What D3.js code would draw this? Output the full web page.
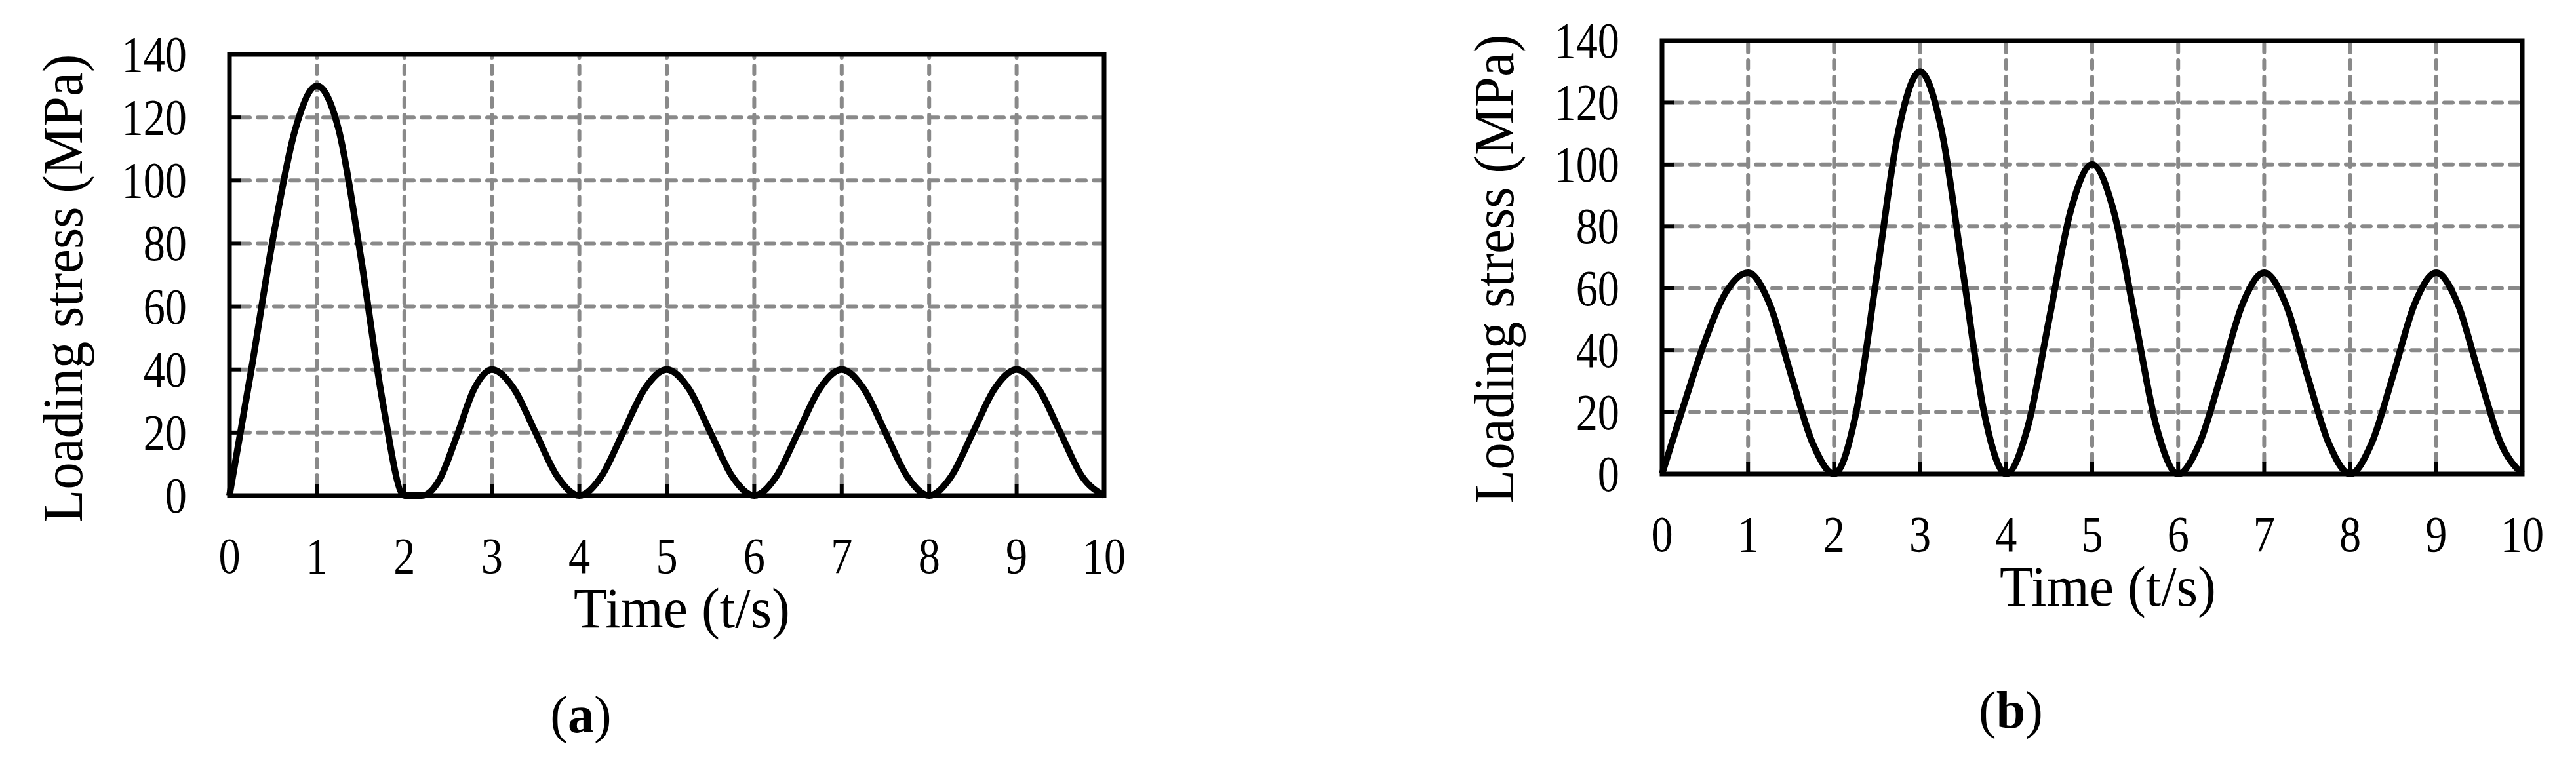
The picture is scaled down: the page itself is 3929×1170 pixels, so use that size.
<!DOCTYPE html>
<html>
<head>
<meta charset="utf-8">
<script src="https://cdn.jsdelivr.net/npm/d3@7"></script>
<style>
  body { margin: 0; background: #fff; }
  text { font-family: "Liberation Serif", "Times New Roman", serif; fill: #000; }
</style>
</head>
<body>
<svg width="3929" height="1170"></svg>
<script>
"use strict";

var xTicks = [0, 1, 2, 3, 4, 5, 6, 7, 8, 9, 10];
var yTicks = [0, 20, 40, 60, 80, 100, 120, 140];

// (a) time / stress points
var timeA = [0, 0.25, 0.5, 0.75, 1, 1.25, 1.5, 1.75, 2, 2.2,
             2.4, 2.6, 2.8, 3, 3.25, 3.5, 3.75, 4,
             4.25, 4.5, 4.75, 5, 5.25, 5.5, 5.75, 6,
             6.25, 6.5, 6.75, 7, 7.25, 7.5, 7.75, 8,
             8.25, 8.5, 8.75, 9, 9.25, 9.5, 9.75, 10];
var stressA = [0, 40, 82, 116, 130, 116, 76, 30, 0, 0,
               5, 19, 34, 40, 34, 20, 6, 0,
               6, 20, 34, 40, 34, 20, 6, 0,
               6, 20, 34, 40, 34, 20, 6, 0,
               6, 20, 34, 40, 34, 20, 6, 0];

// (b)
var timeB = [0, 0.25, 0.5, 0.75, 1, 1.25, 1.5, 1.75, 2,
             2.25, 2.5, 2.75, 3, 3.25, 3.5, 3.75, 4,
             4.25, 4.5, 4.75, 5, 5.25, 5.5, 5.75, 6,
             6.25, 6.5, 6.75, 7, 7.25, 7.5, 7.75, 8,
             8.25, 8.5, 8.75, 9, 9.25, 9.5, 9.75, 10];
var stressB = [0, 22, 43, 59, 65, 55, 32, 10, 0,
               19, 65, 111, 130, 111, 65, 19, 0,
               15, 50, 85, 100, 85, 50, 15, 0,
               10, 32, 55, 65, 55, 32, 10, 0,
               10, 32, 55, 65, 55, 32, 10, 0];

var svg = d3.select("svg");

function drawPanel(cfg) {
    var x = d3.scaleLinear().domain([0, 10]).range([cfg.left, cfg.right]);
    var y = d3.scaleLinear().domain([0, 140]).range([cfg.bottom, cfg.top]);
    var g = svg.append("g");

    // grid
    g.selectAll("line.gy").data(yTicks.slice(1, -1)).enter().append("line")
        .attr("x1", cfg.left + 18).attr("x2", cfg.right)
        .attr("y1", function(d) { return y(d); }).attr("y2", function(d) { return y(d); })
        .attr("stroke", "#898989").attr("stroke-width", 6)
        .attr("stroke-dasharray", "13,12").attr("stroke-linecap", "round");
    g.selectAll("line.gx").data(xTicks.slice(1, -1)).enter().append("line")
        .attr("y1", cfg.bottom - 18).attr("y2", cfg.top)
        .attr("x1", function(d) { return x(d); }).attr("x2", function(d) { return x(d); })
        .attr("stroke", "#898989").attr("stroke-width", 6)
        .attr("stroke-dasharray", "13,12").attr("stroke-linecap", "round");

    // inner ticks
    g.selectAll("line.ty").data(yTicks.slice(1, -1)).enter().append("line")
        .attr("x1", cfg.left).attr("x2", cfg.left + 18)
        .attr("y1", function(d) { return y(d); }).attr("y2", function(d) { return y(d); })
        .attr("stroke", "#000").attr("stroke-width", 6);
    g.selectAll("line.tx").data(xTicks.slice(1, -1)).enter().append("line")
        .attr("y1", cfg.bottom).attr("y2", cfg.bottom - 18)
        .attr("x1", function(d) { return x(d); }).attr("x2", function(d) { return x(d); })
        .attr("stroke", "#000").attr("stroke-width", 6);

    // curve
    var pts = cfg.t.map(function(t, i) { return [t, cfg.s[i]]; });
    g.append("path").datum(pts)
        .attr("d", d3.line().x(function(d) { return x(d[0]); }).y(function(d) { return y(d[1]); })
            .curve(d3.curveMonotoneX))
        .attr("fill", "none").attr("stroke", "#000").attr("stroke-width", 10)
        .attr("stroke-linejoin", "round");

    // frame
    g.append("rect")
        .attr("x", cfg.left).attr("y", cfg.top)
        .attr("width", cfg.right - cfg.left).attr("height", cfg.bottom - cfg.top)
        .attr("fill", "none").attr("stroke", "#000").attr("stroke-width", 7);

    // tick labels
    g.selectAll("text.yl").data(yTicks).enter().append("text")
        .attr("transform", function(d) { return "translate(" + (cfg.left - 65) + "," + (y(d) + 26) + ") scale(0.85,1)"; })
        .attr("text-anchor", "end").attr("font-size", 78)
        .text(function(d) { return d; });
    g.selectAll("text.xl").data(xTicks).enter().append("text")
        .attr("transform", function(d) { return "translate(" + x(d) + "," + (cfg.bottom + 118) + ") scale(0.85,1)"; })
        .attr("text-anchor", "middle").attr("font-size", 78)
        .text(function(d) { return d; });

    // axis titles
    g.append("text")
        .attr("x", cfg.xtX).attr("y", cfg.bottom + 201)
        .attr("text-anchor", "middle").attr("font-size", 86)
        .attr("textLength", 330).attr("lengthAdjust", "spacingAndGlyphs")
        .text("Time (t/s)");
    g.append("text")
        .attr("transform", "translate(" + cfg.ytX + "," + cfg.ytY + ") rotate(-90)")
        .attr("text-anchor", "middle").attr("font-size", 86)
        .attr("textLength", 715).attr("lengthAdjust", "spacingAndGlyphs")
        .text("Loading stress (MPa)");

    // panel label
    var lab = g.append("text")
        .attr("x", cfg.labX).attr("y", cfg.labY)
        .attr("text-anchor", "middle").attr("font-size", 80);
    lab.append("tspan").text("(");
    lab.append("tspan").attr("font-weight", "bold").text(cfg.label);
    lab.append("tspan").text(")");
}

drawPanel({ left: 350, right: 1684, top: 83, bottom: 756, t: timeA, s: stressA,
            xtX: 1040, ytX: 125, ytY: 440, labX: 886, labY: 1117, label: "a" });
drawPanel({ left: 2535, right: 3847, top: 62, bottom: 723, t: timeB, s: stressB,
            xtX: 3215, ytX: 2308, ytY: 410, labX: 3067, labY: 1110, label: "b" });
</script>
</body>
</html>
